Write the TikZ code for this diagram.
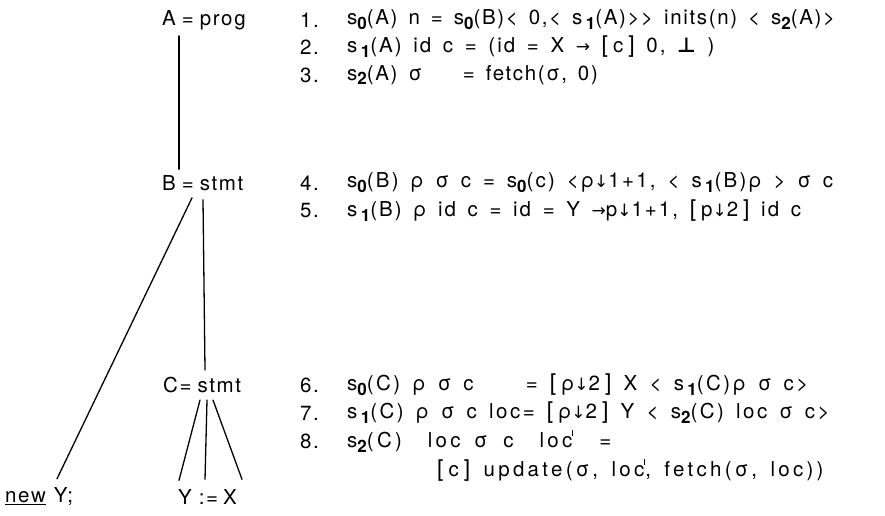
\documentclass[tikz,border=0pt]{standalone}
\usepackage{fontspec}
\setmainfont{TeX Gyre Heros}[LetterSpace=8,WordSpace=1.5,Ligatures=TeXOff]
\newfontfamily\symf{DejaVu Sans}
\newcommand{\sbs}[1]{\raisebox{-0.45ex}{\fontsize{17}{17}\selectfont\bfseries #1}}
\newcommand{\ra}{{\symf\fontsize{17}{17}\selectfont →}}
\newcommand{\da}{{\symf\fontsize{17}{17}\selectfont ↓}}
\newcommand{\myperp}{{\symf\bfseries ⊥}}
\newcommand{\lb}{{\fontsize{23}{23}\selectfont\addfontfeature{LetterSpace=0}[}\hspace{5pt}}
\newcommand{\rb}{\hspace{5pt}{\fontsize{23}{23}\selectfont\addfontfeature{LetterSpace=0}]}}
\newcommand{\pr}{\raisebox{1.05ex}{\rule{0.9pt}{0.55ex}}}
\newcommand{\ls}[1]{\addfontfeature{LetterSpace=#1}}
\usetikzlibrary{calc}
\begin{document}
\begin{tikzpicture}[x=1pt,y=-1pt,
  txt/.style={anchor=west,inner sep=0pt,font=\fontsize{20.5}{20.5}\selectfont},
  edge/.style={line width=1.3pt,line cap=round}]
\useasboundingbox (0,0) rectangle (885,515);
% tree labels
\node[txt] (A) at (162,20) {A\hspace{6pt}=\hspace{6pt}prog};
\node[txt] (B) at (162,183) {B\hspace{6pt}=\hspace{6pt}stmt};
\node[txt] (C) at (163,385) {C=\hspace{6pt}stmt};
\node[txt] (N) at (5,497) {\underline{new}\hspace{8pt}Y;};
\node[txt] (Y) at (178,497) {Y\hspace{7pt}:=\hspace{5pt}X};
% numbers
\foreach \n/\y in {1/20,2/47,3/75,4/183,5/211,6/385,7/413,8/441}
  \node[txt] (n\n) at (300,\y) {\n.};
% equations
\node[txt] (e1) at (347,20) {s\sbs{0}(A) n = s\sbs{0}(B)< 0,< s\,\sbs{1}(A)>> inits(n) < s\sbs{2}(A)>};
\node[txt] (e2) at (347,47) {\ls{10}s\,\sbs{1}(A) id c = (id = X \ra\ \lb c\rb\ 0, \myperp\ )};
\node[txt] (e3) at (347,75) {s\sbs{2}(A) σ\hspace{30pt} = fetch(σ, 0)};
\node[txt] (e4) at (347,183) {\ls{11}s\sbs{0}(B) ρ σ c = s\sbs{0}(c) <ρ\da1+1, < s\,\sbs{1}(B)ρ > σ c};
\node[txt] (e5) at (347,211) {\ls{10}s\,\sbs{1}(B) ρ id c = id = Y \ra p\da1+1, \lb p\da2\rb\ id c};
\node[txt] (e6) at (347,385) {\ls{12}s\sbs{0}(C) ρ σ c\hspace{40pt} = \lb ρ\da2\rb\ X < s\,\sbs{1}(C)ρ σ c>};
\node[txt] (e7) at (347,413) {\ls{12}s\,\sbs{1}(C) ρ σ c loc= \lb ρ\da2\rb\ Y < s\sbs{2}(C) loc σ c>};
\node[txt] (e8) at (347,441) {\ls{16}s\sbs{2}(C)\hspace{26pt}loc σ\hspace{16pt}c\hspace{26pt}loc\pr\hspace{26pt}=};
\node[txt] (e9) at (437,470) {\ls{16}\lb c\rb\ update(σ, loc\pr, fetch(σ, loc))};
% connectors
\draw[edge] ([xshift=17pt,yshift=-6pt]A.south west) -- ([xshift=17pt,yshift=6pt]B.north west);
\draw[edge] ([xshift=30pt,yshift=-7pt]B.south west) -- ([xshift=52pt,yshift=9pt]N.north west);
\draw[edge] ([xshift=41pt,yshift=-9pt]B.south west) -- ([xshift=42pt,yshift=7pt]C.north west);
\draw[edge] ([xshift=37pt,yshift=-7pt]C.south west) -- ([xshift=1pt,yshift=9pt]Y.north west);
\draw[edge] ([xshift=44pt,yshift=-7pt]C.south west) -- ([xshift=27pt,yshift=10pt]Y.north west);
\draw[edge] ([xshift=50pt,yshift=-7pt]C.south west) -- ([xshift=64pt,yshift=10pt]Y.north west);
\end{tikzpicture}
\end{document}
